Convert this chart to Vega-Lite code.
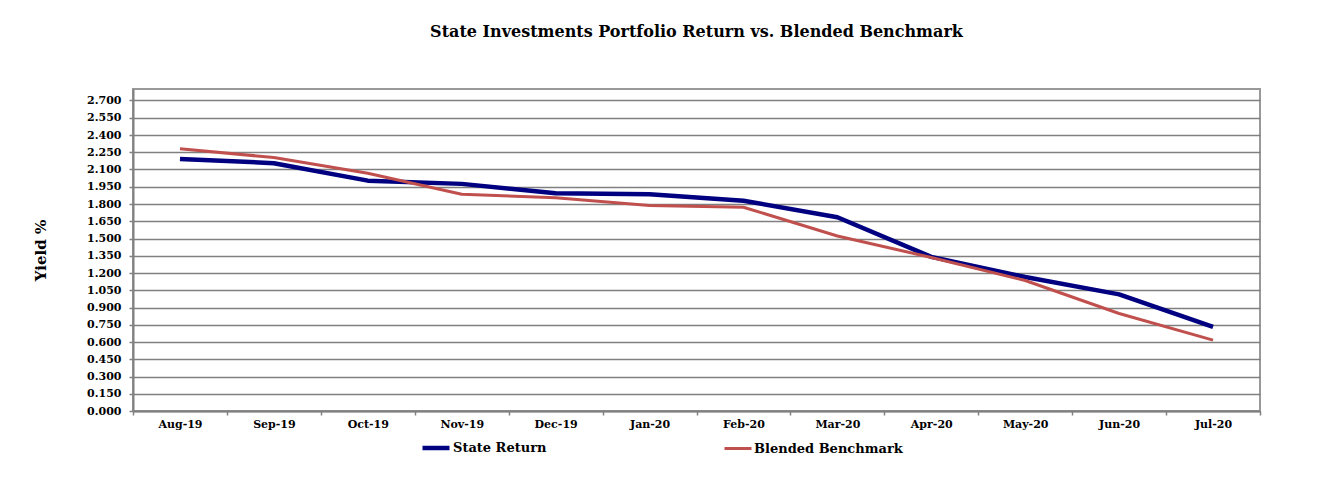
{
  "$schema": "https://vega.github.io/schema/vega-lite/v6.json",
  "width": 1127,
  "height": 322,
  "autosize": {"type": "none"},
  "padding": {"left": 133, "top": 89, "right": 60, "bottom": 78},
  "background": "white",
  "title": {
    "text": "State Investments Portfolio Return vs. Blended Benchmark",
    "font": "DejaVu Serif",
    "fontSize": 16,
    "fontWeight": "bold",
    "color": "#000000",
    "anchor": "middle",
    "offset": 49
  },
  "config": {
    "view": {"stroke": "#999999", "strokeWidth": 2},
    "axis": {
      "labelFont": "DejaVu Serif",
      "labelFontWeight": "bold",
      "labelFontSize": 11,
      "labelColor": "#000000",
      "titleFont": "DejaVu Serif",
      "titleFontWeight": "bold",
      "titleColor": "#000000",
      "domainColor": "#808080",
      "domainWidth": 2,
      "tickColor": "#808080",
      "tickWidth": 1.5,
      "tickSize": 4
    },
    "legend": {
      "labelFont": "DejaVu Serif",
      "labelFontWeight": "bold",
      "labelFontSize": 13,
      "labelColor": "#000000"
    }
  },
  "data": {
    "values": [
      {"month": "Aug-19", "series": "State Return", "value": 2.192},
      {"month": "Sep-19", "series": "State Return", "value": 2.155},
      {"month": "Oct-19", "series": "State Return", "value": 2.003},
      {"month": "Nov-19", "series": "State Return", "value": 1.975},
      {"month": "Dec-19", "series": "State Return", "value": 1.894},
      {"month": "Jan-20", "series": "State Return", "value": 1.885},
      {"month": "Feb-20", "series": "State Return", "value": 1.829},
      {"month": "Mar-20", "series": "State Return", "value": 1.685},
      {"month": "Apr-20", "series": "State Return", "value": 1.340},
      {"month": "May-20", "series": "State Return", "value": 1.165},
      {"month": "Jun-20", "series": "State Return", "value": 1.014},
      {"month": "Jul-20", "series": "State Return", "value": 0.732},
      {"month": "Aug-19", "series": "Blended Benchmark", "value": 2.280},
      {"month": "Sep-19", "series": "Blended Benchmark", "value": 2.204},
      {"month": "Oct-19", "series": "Blended Benchmark", "value": 2.068},
      {"month": "Nov-19", "series": "Blended Benchmark", "value": 1.885},
      {"month": "Dec-19", "series": "Blended Benchmark", "value": 1.855},
      {"month": "Jan-20", "series": "Blended Benchmark", "value": 1.786},
      {"month": "Feb-20", "series": "Blended Benchmark", "value": 1.772},
      {"month": "Mar-20", "series": "Blended Benchmark", "value": 1.522},
      {"month": "Apr-20", "series": "Blended Benchmark", "value": 1.335},
      {"month": "May-20", "series": "Blended Benchmark", "value": 1.135},
      {"month": "Jun-20", "series": "Blended Benchmark", "value": 0.848},
      {"month": "Jul-20", "series": "Blended Benchmark", "value": 0.616}
    ]
  },
  "mark": {"type": "line", "strokeJoin": "round", "strokeCap": "butt"},
  "encoding": {
    "x": {
      "field": "month",
      "type": "ordinal",
      "sort": null,
      "scale": {"type": "band", "paddingInner": 0, "paddingOuter": 0},
      "axis": {
        "title": null,
        "labelAngle": 0,
        "tickBand": "extent",
        "labelPadding": 3,
        "grid": false
      }
    },
    "y": {
      "field": "value",
      "type": "quantitative",
      "scale": {"domain": [0, 2.8], "nice": false},
      "axis": {
        "title": "Yield %",
        "titleFontSize": 15,
        "titlePadding": 38,
        "values": [0, 0.15, 0.3, 0.45, 0.6, 0.75, 0.9, 1.05, 1.2, 1.35, 1.5, 1.65, 1.8, 1.95, 2.1, 2.25, 2.4, 2.55, 2.7],
        "format": ".3f",
        "grid": true,
        "gridColor": "#808080",
        "gridWidth": 1.5,
        "gridOpacity": 1,
        "labelPadding": 8
      }
    },
    "color": {
      "field": "series",
      "type": "nominal",
      "sort": ["State Return", "Blended Benchmark"],
      "scale": {"domain": ["State Return", "Blended Benchmark"], "range": ["#000080", "#C0504D"]},
      "legend": {
        "title": null,
        "orient": "none",
        "direction": "horizontal",
        "legendX": 287,
        "legendY": 343,
        "symbolType": "stroke",
        "symbolSize": 729,
        "symbolStrokeWidth": 4,
        "labelOffset": 1,
        "columnPadding": 171
      }
    },
    "strokeWidth": {
      "field": "series",
      "type": "nominal",
      "scale": {"domain": ["State Return", "Blended Benchmark"], "range": [4.5, 3]},
      "legend": null
    }
  }
}
